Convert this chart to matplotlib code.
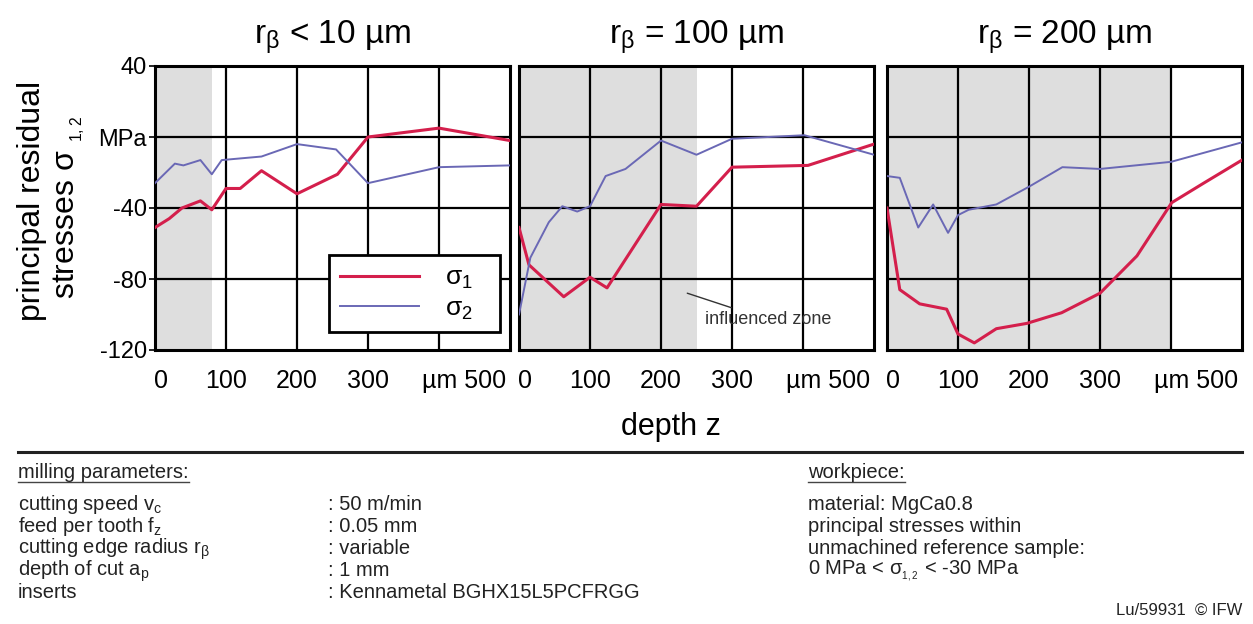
import matplotlib
matplotlib.use("Agg")
import matplotlib.pyplot as plt
from matplotlib.lines import Line2D
from matplotlib.transforms import ScaledTranslation

plt.rcParams['font.family'] = ['Liberation Sans', 'DejaVu Sans']
plt.rcParams['mathtext.default'] = 'regular'

# panel titles and influenced zone (shaded depth, µm)
titles = ["r$_β$ < 10 µm", "r$_β$ = 100 µm", "r$_β$ = 200 µm"]
zone_end = [80, 250, 400]

# sigma 1 (red) and sigma 2 (blue), depth in µm, stress in MPa
x1_s1 = [0, 20, 38, 64, 80, 100, 120, 150, 200, 257, 300, 400, 500]
y1_s1 = [-51, -46, -40, -36, -41, -29, -29, -19, -32, -21, 0, 5, -2]
x1_s2 = [0, 28, 40, 64, 80, 94, 150, 200, 255, 300, 400, 500]
y1_s2 = [-26, -15, -16, -13, -21, -13, -11, -4, -7, -26, -17, -16]

x2_s1 = [0, 14, 63, 100, 124, 200, 250, 300, 407, 500]
y2_s1 = [-51, -72, -90, -79, -85, -38, -39, -17, -16, -4]
x2_s2 = [0, 16, 42, 61, 82, 100, 122, 150, 200, 250, 300, 402, 500]
y2_s2 = [-100, -68, -48, -39, -42, -39, -22, -18, -2, -10, -1, 1, -10]

x3_s1 = [0, 18, 46, 84, 100, 123, 154, 197, 246, 300, 352, 401, 446, 500]
y3_s1 = [-40, -86, -94, -97, -111, -116, -108, -105, -99, -88, -67, -37, -26, -13]
x3_s2 = [0, 18, 44, 65, 86, 100, 115, 154, 200, 247, 300, 400, 500]
y3_s2 = [-22, -23, -51, -38, -54, -44, -41, -38, -28, -17, -18, -14, -3]

panels = [(x1_s1, y1_s1, x1_s2, y1_s2),
          (x2_s1, y2_s1, x2_s2, y2_s2),
          (x3_s1, y3_s1, x3_s2, y3_s2)]

yticks = [40, 0, -40, -80, -120]
ylabels = ['40', 'MPa', '-40', '-80', '-120']
xticks = [0, 100, 200, 300, 400, 500]
xlabels = ['0', '100', '200', '300', '', 'µm 500']

red = '#d41f4c'
blue = '#6a68b5'
shade = '#dedede'

W, H = 1253, 624
fig = plt.figure(figsize=(W / 100, H / 100), dpi=100)

lefts = [155, 519, 887]
axw = 355 / W
axb = (H - 350) / H
axh = 284 / H

axes = []
for i, (xa, ya, xb, yb) in enumerate(panels):
    ax = fig.add_axes([lefts[i] / W, axb, axw, axh])
    axes.append(ax)
    ax.axvspan(0, zone_end[i], color=shade, zorder=0, lw=0)
    for gx in [100, 200, 300, 400]:
        ax.axvline(gx, color='black', lw=1.6, zorder=1)
    for gy in [0, -40, -80]:
        ax.axhline(gy, color='black', lw=1.6, zorder=1)
    ax.plot(xa, ya, color=red, lw=2.2, zorder=3, label='σ$_1$   ')
    ax.plot(xb, yb, color=blue, lw=1.4, zorder=3, label='σ$_2$   ')
    ax.set_xlim(0, 500)
    ax.set_ylim(-120, 40)
    ax.set_xticks(xticks)
    ax.set_xticklabels(xlabels, fontsize=18)
    ax.tick_params(axis='x', length=0, pad=14)
    labs = ax.get_xticklabels()
    labs[0].set_transform(labs[0].get_transform() + ScaledTranslation(6 / 100, 0, fig.dpi_scale_trans))
    labs[-1].set_ha('right')
    labs[-1].set_transform(labs[-1].get_transform() + ScaledTranslation(-4 / 100, 0, fig.dpi_scale_trans))
    ax.set_yticks(yticks)
    if i == 0:
        ax.set_yticklabels(ylabels, fontsize=17)
        ax.tick_params(axis='y', length=4, width=1.2, pad=2)
    else:
        ax.set_yticklabels([])
        ax.tick_params(axis='y', length=0)
    for s in ax.spines.values():
        s.set_linewidth(2.2)
    ax.set_title(titles[i], fontsize=24, pad=16)

leg = axes[0].legend(loc='lower right', bbox_to_anchor=(0.972, 0.063),
                     borderaxespad=0, fontsize=19, handlelength=3.0,
                     handletextpad=1.0, borderpad=0.4, labelspacing=0.2,
                     fancybox=False, framealpha=1, edgecolor='black')
leg.get_frame().set_linewidth(2.0)
leg.set_zorder(5)

axes[1].annotate('influenced zone', xy=(237, -88), xytext=(262, -103),
                 fontsize=13, color='#333333', ha='left', va='center',
                 arrowprops=dict(arrowstyle='-', color='#333333', lw=1.0,
                                 shrinkA=2, shrinkB=0), zorder=4)

# axis labels
fig.text(32 / W, 1 - 201 / H, 'principal residual', rotation=90,
         ha='center', va='center', fontsize=23)
fig.text(69 / W, 1 - 207 / H, 'stresses σ $_{_{1,2}}$', rotation=90,
         ha='center', va='center', fontsize=23)
fig.text(671 / W, 1 - 427 / H, 'depth z', ha='center', va='center', fontsize=22)

# separator
fig.add_artist(Line2D([18 / W, 1242 / W], [1 - 452 / H, 1 - 452 / H],
                      color='#222222', lw=2.2))

# parameter table
fs = 14.5
hdr1 = fig.text(18 / W, 1 - 473 / H, 'milling parameters:', fontsize=fs,
                ha='left', va='center', color='#222222')
hdr2 = fig.text(808 / W, 1 - 473 / H, 'workpiece:', fontsize=fs,
                ha='left', va='center', color='#222222')
params = ['cutting speed v$_c$', 'feed per tooth f$_z$', 'cutting edge radius r$_β$',
          'depth of cut a$_p$', 'inserts']
values = [': 50 m/min', ': 0.05 mm', ': variable', ': 1 mm', ': Kennametal BGHX15L5PCFRGG']
rows = [505, 527, 549, 571, 593]
for p, v, r in zip(params, values, rows):
    fig.text(18 / W, 1 - r / H, p, fontsize=fs, ha='left', va='center', color='#222222')
    fig.text(328 / W, 1 - r / H, v, fontsize=fs, ha='left', va='center', color='#222222')
work = ['material: MgCa0.8', 'principal stresses within',
        'unmachined reference sample:', '0 MPa < σ$_{_{1,2}}$ < -30 MPa']
for w, r in zip(work, rows):
    fig.text(808 / W, 1 - r / H, w, fontsize=fs, ha='left', va='center', color='#222222')
fig.text(1242 / W, 1 - 610 / H, 'Lu/59931  © IFW', fontsize=12,
         ha='right', va='center', color='#222222')

# underline the headers
fig.canvas.draw()
inv = fig.transFigure.inverted()
for t in [hdr1, hdr2]:
    bb = t.get_window_extent()
    (x0, y0), (x1, _) = inv.transform([(bb.x0, bb.y0 + 1), (bb.x1, bb.y0)])
    fig.add_artist(Line2D([x0, x1], [y0, y0], color='#444444', lw=1.0))

fig.savefig('out.png', dpi=100)
